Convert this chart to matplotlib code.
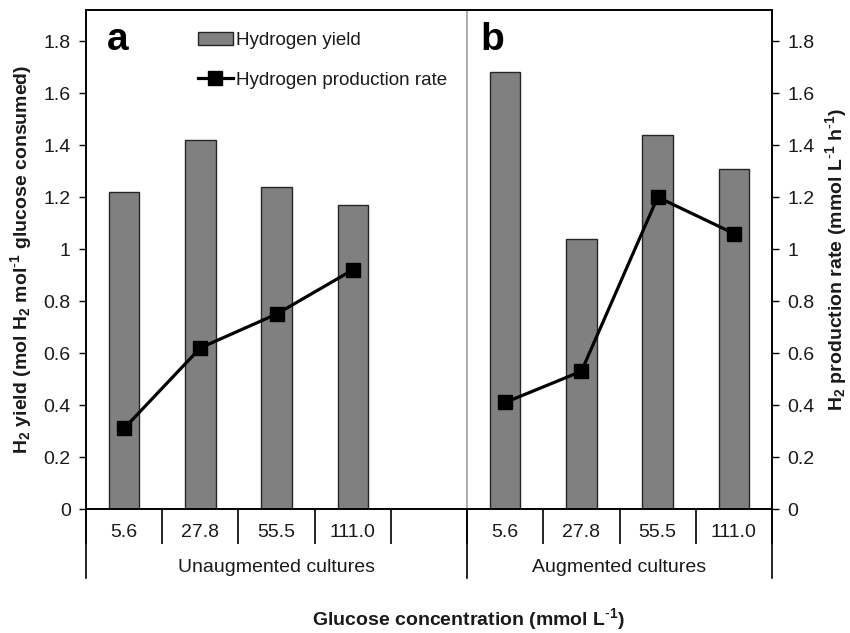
import numpy as np
import matplotlib
matplotlib.use('Agg')
import matplotlib.pyplot as plt
from matplotlib.ticker import FuncFormatter

plt.rcParams['font.family'] = ['Liberation Sans', 'DejaVu Sans']
plt.rcParams['mathtext.default'] = 'regular'

# slots along the category axis: 4 unaugmented, one blank spacer, 4 augmented
conc_labels = ['5.6', '27.8', '55.5', '111.0', '', '5.6', '27.8', '55.5', '111.0']
group_names = ['Unaugmented cultures', 'Augmented cultures']
h2_yield = [1.22, 1.42, 1.24, 1.17, np.nan, 1.68, 1.04, 1.44, 1.31]
h2_rate = [0.31, 0.62, 0.75, 0.92, np.nan, 0.41, 0.53, 1.20, 1.06]

x = np.arange(len(conc_labels))
ymax = 1.92
txt = '#1a1a1a'
fs = 14

fig = plt.figure(figsize=(8.5, 6.33), dpi=100)
ax = fig.add_axes([86/850, 1-509/633, (772-86)/850, (509-10)/633])
ax2 = ax.twinx()

bars = ax.bar(x, h2_yield, width=0.4, color='#808080', edgecolor='#262626',
              linewidth=1, label='Hydrogen yield', zorder=2)
line, = ax2.plot(x, h2_rate, color='black', lw=2.3, marker='s', ms=9.5,
                 label='Hydrogen production rate')

ax.axvline(4.5, color='#a6a6a6', lw=1.3, zorder=1)

fmt = FuncFormatter(lambda v, p: f'{v:g}')
for a in (ax, ax2):
    a.set_ylim(0, ymax)
    a.set_yticks(np.arange(0, 1.81, 0.2))
    a.yaxis.set_major_formatter(fmt)
    a.tick_params(axis='y', direction='out', length=5, width=1, labelsize=fs,
                  color='black', labelcolor=txt, pad=6)
    for s in a.spines.values():
        s.set_linewidth(1.2)
    a.set_xlim(-0.5, 8.5)

# category axis: short ticks between concentrations, labels in the middle
ax.set_xticks(np.arange(-0.5, 9, 1.0))
ax.set_xticklabels([])
ax.tick_params(axis='x', which='major', direction='out', length=25, width=1.2)
ax.set_xticks(x, minor=True)
ax.set_xticklabels(conc_labels, minor=True)
ax.tick_params(axis='x', which='minor', length=0, labelsize=fs, pad=11,
               labelcolor=txt)

# longer lines separating the two culture groups
trans = ax.get_xaxis_transform()
for xb in (-0.5, 4.5, 8.5):
    ax.plot([xb, xb], [0, -0.138], transform=trans, color='black', lw=1.2,
            clip_on=False)
ax.text(2.0, -0.117, group_names[0], transform=trans, ha='center', va='center',
        fontsize=fs, color=txt)
ax.text(6.5, -0.117, group_names[1], transform=trans, ha='center', va='center',
        fontsize=fs, color=txt)

ax.text(0.03, 0.975, 'a', transform=ax.transAxes, fontsize=28, fontweight='bold',
        va='top', ha='left')
ax.text(0.575, 0.975, 'b', transform=ax.transAxes, fontsize=28, fontweight='bold',
        va='top', ha='left')

ax.set_ylabel(r'H$_2$ yield (mol H$_2$ mol$^{\text{-}1}$ glucose consumed)',
              fontsize=fs, fontweight='bold', color=txt, labelpad=7)
ax2.set_ylabel(r'H$_2$ production rate (mmol L$^{\text{-}1}$ h$^{\text{-}1}$)',
               fontsize=fs, fontweight='bold', color=txt, labelpad=6)
fig.text(469/850, 1-619/633, r'Glucose concentration (mmol L$^{\text{-}1}$)',
         fontsize=fs, fontweight='bold', color=txt, ha='center', va='center')

ax2.legend([bars, line], ['Hydrogen yield', 'Hydrogen production rate'],
           loc='upper left', bbox_to_anchor=(198/850, 1-32/633),
           bbox_transform=fig.transFigure, frameon=False, fontsize=13.5,
           borderpad=0, borderaxespad=0, handlelength=1.85, handletextpad=0.2,
           labelspacing=1.2, labelcolor=txt)

fig.savefig('out.png', dpi=100)
